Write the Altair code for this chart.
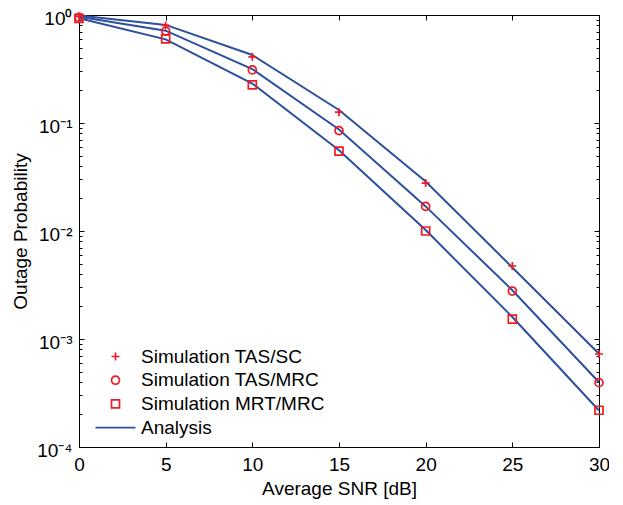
import altair as alt
import pandas as pd

# ---- data ----
snr = [0, 5, 10, 15, 20, 25, 30]

sim_tas_sc = [0.97, 0.80, 0.41, 0.126, 0.0278, 0.00474, 0.000726]
sim_tas_mrc = [0.95, 0.71, 0.31, 0.085, 0.0169, 0.00278, 0.000394]
sim_mrt_mrc = [0.93, 0.60, 0.225, 0.055, 0.0100, 0.00153, 0.000219]

ana_tas_sc = [0.99, 0.81, 0.426, 0.132, 0.0287, 0.0046, 0.00073]
ana_tas_mrc = [0.965, 0.716, 0.316, 0.087, 0.0169, 0.00283, 0.000398]
ana_mrt_mrc = [0.932, 0.595, 0.232, 0.056, 0.0102, 0.0016, 0.000218]

legend_labels = ["Simulation TAS/SC", "Simulation TAS/MRC", "Simulation MRT/MRC", "Analysis"]
x_ticks = [0, 5, 10, 15, 20, 25, 30]
y_major = [1e-4, 1e-3, 1e-2, 1e-1, 1]
y_minor = [m * 10.0 ** e for e in range(-4, 0) for m in range(2, 10)]

BLUE = "#2c4f9e"
RED = "#ed1c24"
FONT = "Liberation Sans, Arial, Helvetica, sans-serif"
PLUS = "M-1,0H1M0,-1V1"
LINE = "M-5,0H5"

rows_l = []
for name, vals in [("TAS/SC", ana_tas_sc), ("TAS/MRC", ana_tas_mrc), ("MRT/MRC", ana_mrt_mrc)]:
    for xv, yv in zip(snr, vals):
        rows_l.append({"snr": xv, "p": yv, "curve": name})
df_lines = pd.DataFrame(rows_l)

rows_p = []
for name, vals in zip(legend_labels[:3], [sim_tas_sc, sim_tas_mrc, sim_mrt_mrc]):
    for xv, yv in zip(snr, vals):
        rows_p.append({"snr": xv, "p": yv, "series": name})
df_pts = pd.DataFrame(rows_p)

xs = alt.Scale(domain=[0, 30], nice=False, zero=False)
ys = alt.Scale(type="log", domain=[1e-4, 1], nice=False)


def tick_axis(orient, values, length):
    return alt.Axis(orient=orient, values=values, labels=False, domain=False,
                    ticks=True, tickSize=length, offset=-length, grid=False,
                    title=None, tickColor="black", tickWidth=1)


sup_expr = ("'10' + ['\u2070','\u207b\u00b9','\u207b\u00b2','\u207b\u00b3','\u207b\u2074']"
            "[round(-log(datum.value)/LN10)]")

lines = alt.Chart(df_lines).mark_line(color=BLUE, strokeWidth=2).encode(
    x=alt.X("snr:Q", scale=xs,
            axis=alt.Axis(orient="bottom", values=x_ticks, ticks=False, domain=False,
                          grid=False, title="Average SNR [dB]", labelPadding=8,
                          labelFlush=False, titlePadding=5, format="d")),
    y=alt.Y("p:Q", scale=ys,
            axis=alt.Axis(orient="left", values=y_major, ticks=False, domain=False,
                          grid=False, title="Outage Probability", labelExpr=sup_expr,
                          labelFlush=False, labelOffset=3,
                          labelPadding=7, titlePadding=6)),
    detail="curve:N",
)

leg = alt.Legend(title=None, orient="none", legendX=27, legendY=332,
                 labelFontSize=19, labelFont=FONT, labelColor="black",
                 labelLimit=400, labelOffset=16, symbolSize=64,
                 symbolStrokeWidth=1.7, rowPadding=3.7, padding=0)

pts = alt.Chart(df_pts).mark_point(filled=False, size=64, strokeWidth=1.7,
                                   opacity=1).encode(
    x=alt.X("snr:Q", scale=xs, axis=tick_axis("top", x_ticks, 5)),
    y=alt.Y("p:Q", scale=ys, axis=tick_axis("left", y_major, 5)),
    color=alt.Color("series:N",
                    scale=alt.Scale(domain=legend_labels, range=[RED, RED, RED, BLUE]),
                    legend=leg),
    shape=alt.Shape("series:N",
                    scale=alt.Scale(domain=legend_labels, range=[PLUS, "circle", "square", LINE]),
                    legend=leg),
)

ghost = alt.Chart(df_lines).mark_point(opacity=0)
g1 = ghost.encode(
    x=alt.X("snr:Q", scale=xs, axis=tick_axis("bottom", x_ticks, 5)),
    y=alt.Y("p:Q", scale=ys, axis=tick_axis("right", y_major, 5)),
)
g2 = ghost.encode(
    x=alt.X("snr:Q", scale=xs, axis=None),
    y=alt.Y("p:Q", scale=ys, axis=tick_axis("left", y_minor, 3)),
)
g3 = ghost.encode(
    x=alt.X("snr:Q", scale=xs, axis=None),
    y=alt.Y("p:Q", scale=ys, axis=tick_axis("right", y_minor, 3)),
)

chart = (
    alt.layer(lines, pts, g1, g2, g3)
    .resolve_axis(x="independent", y="independent")
    .properties(width=520, height=432,
                autosize=alt.AutoSizeParams(type="none"),
                padding={"left": 71, "top": 7, "right": 10, "bottom": 56})
    .configure_view(stroke="black", strokeWidth=1)
    .configure_axis(labelFont=FONT, labelFontSize=19, labelColor="black",
                    titleFont=FONT, titleFontSize=19, titleFontWeight="normal",
                    titleColor="black")
)

chart.save("out.html", embed_options={"renderer": "svg", "actions": False})
